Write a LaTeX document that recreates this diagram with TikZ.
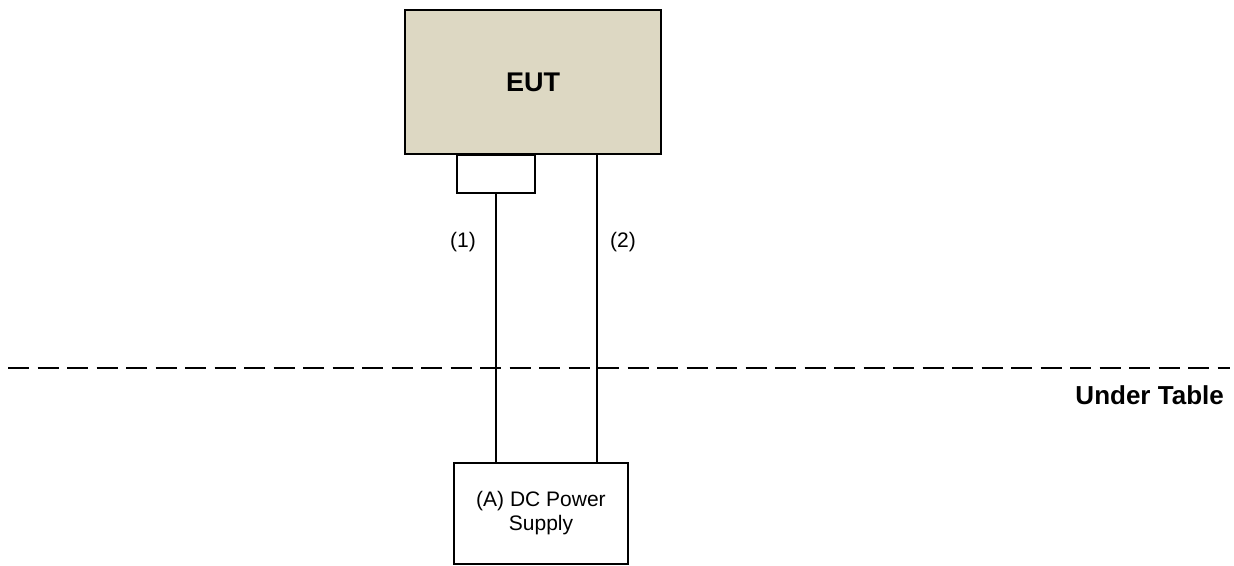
\documentclass[tikz,border=0pt]{standalone}
\usepackage{fontspec}
\setmainfont{Liberation Sans}
\definecolor{eutfill}{RGB}{221,216,195}
\begin{document}
\begin{tikzpicture}[x=1pt, y=-1pt,
    box/.style={draw, line width=2pt, inner sep=0pt},
    lbl/.style={font=\fontsize{21}{24}\selectfont, inner sep=0pt}]
    \useasboundingbox (0,0) rectangle (1234,565);
    % EUT and its connector
    \node[box, line width=2.4pt, fill=eutfill, minimum width=256pt, minimum height=144pt,
        font=\fontsize{27}{30}\selectfont\bfseries] (eut) at (533,82) {EUT};
    \node[box, minimum width=78pt, minimum height=38pt, anchor=north] (port) at (496,154) {};
    \coordinate (c2) at (597,154);
    % DC power supply
    \node[box, lbl, align=center, minimum width=174pt, minimum height=101pt] (psu) at (541,513.5)
        {(A) DC Power\\Supply};
    % Cables
    \draw[line width=2pt] (port.south) -- (port.south |- psu.north);
    \draw[line width=2pt] (c2) -- (c2 |- psu.north);
    \node[lbl] (l1) at (463,242) {(1)};
    \node[lbl] (l2) at (623,242) {(2)};
    % Table edge
    \coordinate (tl) at (8,368);
    \coordinate (tr) at (1230,368);
    \draw[line width=2pt, dash pattern=on 21pt off 8.5pt] (tl) -- (tr);
    \node[anchor=base east, inner sep=0pt, font=\fontsize{26}{30}\selectfont\bfseries] (ut) at (1224,404) {Under Table};
\end{tikzpicture}
\end{document}
